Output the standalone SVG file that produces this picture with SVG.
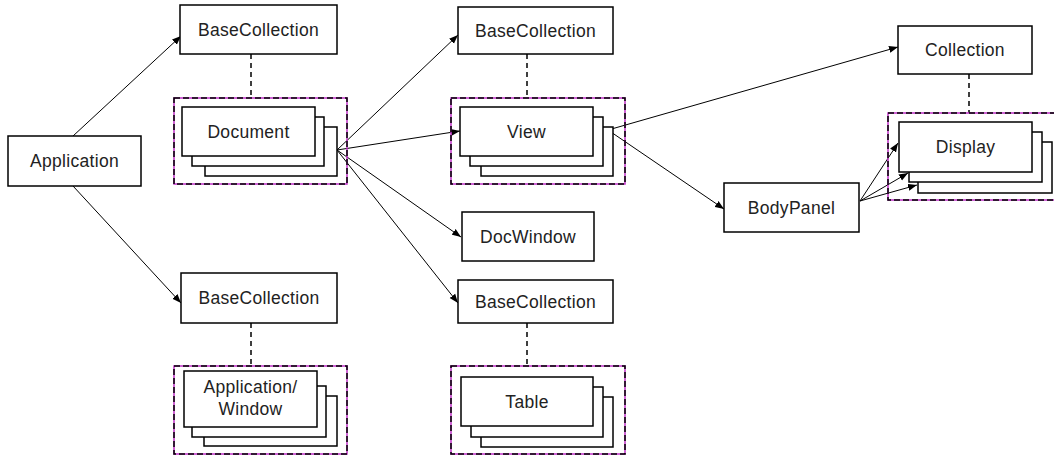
<svg xmlns="http://www.w3.org/2000/svg" width="1054" height="455" viewBox="0 0 1054 455">
<style>
.box{fill:#fff;stroke:#000;stroke-width:1.5}
.frm{fill:none;stroke:#c030c8;stroke-width:1.5}
.frmd{fill:none;stroke:#000;stroke-width:1.5;stroke-dasharray:6 3}
.lbl{font-family:"Liberation Sans",Arial,sans-serif;font-size:17.5px;letter-spacing:0.3px;fill:#222;text-anchor:middle}
.arr{fill:none;stroke:#000;stroke-width:1;marker-end:url(#ah)}
.dsh{fill:none;stroke:#000;stroke-width:1.5;stroke-dasharray:5 4}
</style>
<defs>
<marker id="ah" markerUnits="userSpaceOnUse" markerWidth="10" markerHeight="8" refX="9" refY="4" orient="auto">
<path d="M0,0.5 L9,4 L0,7.5 z" fill="#000"/>
</marker>
</defs>
<rect width="1054" height="455" fill="#fff"/>

<g id="connectors">
<line class="arr" x1="73" y1="136" x2="181" y2="36"/>
<line class="arr" x1="73" y1="186" x2="181" y2="303"/>
<line class="arr" x1="337" y1="150" x2="458" y2="35"/>
<line class="arr" x1="337" y1="150" x2="460" y2="131"/>
<line class="arr" x1="337" y1="150" x2="461" y2="237"/>
<line class="arr" x1="337" y1="150" x2="458" y2="303"/>
<line class="arr" x1="608" y1="130" x2="898" y2="47"/>
<line class="arr" x1="608" y1="130" x2="724" y2="209"/>
<line class="arr" x1="860" y1="201" x2="898" y2="143"/>
<line class="arr" x1="860" y1="201" x2="908" y2="173"/>
<line class="arr" x1="860" y1="201" x2="917" y2="185"/>
<line class="dsh" x1="251" y1="54" x2="251" y2="98"/>
<line class="dsh" x1="251" y1="323" x2="251" y2="366"/>
<line class="dsh" x1="527" y1="54" x2="527" y2="98"/>
<line class="dsh" x1="527" y1="323" x2="527" y2="366"/>
<line class="dsh" x1="969" y1="74" x2="969" y2="113"/>
</g>

<g id="application">
<rect class="box" x="8" y="136" width="133" height="50"/>
<text class="lbl" x="74.5" y="167">Application</text>
</g>

<g id="basecollection1">
<rect class="box" x="180" y="5" width="157" height="49"/>
<text class="lbl" x="258.5" y="36">BaseCollection</text>
</g>

<g id="document">
<rect class="frm" x="174" y="98" width="173" height="86"/>
<rect class="frmd" x="174" y="98" width="173" height="86"/>
<rect class="box" x="205" y="127" width="132" height="49"/>
<rect class="box" x="192" y="117" width="132" height="49"/>
<rect class="box" x="182" y="107" width="133" height="49"/>
<text class="lbl" x="248.5" y="138">Document</text>
</g>

<g id="basecollection2">
<rect class="box" x="181" y="273" width="156" height="50"/>
<text class="lbl" x="259" y="304">BaseCollection</text>
</g>

<g id="appwindow">
<rect class="frm" x="174" y="366" width="173" height="88"/>
<rect class="frmd" x="174" y="366" width="173" height="88"/>
<rect class="box" x="204" y="396" width="133" height="50"/>
<rect class="box" x="192" y="386" width="134" height="51"/>
<rect class="box" x="184" y="371" width="133" height="56"/>
<text class="lbl" x="250.5" y="393">Application/</text>
<text class="lbl" x="250.5" y="415">Window</text>
</g>

<g id="basecollection3">
<rect class="box" x="458" y="7" width="155" height="47"/>
<text class="lbl" x="535.5" y="37">BaseCollection</text>
</g>

<g id="view">
<rect class="frm" x="451" y="98" width="174" height="86"/>
<rect class="frmd" x="451" y="98" width="174" height="86"/>
<rect class="box" x="481" y="127" width="132" height="49"/>
<rect class="box" x="470" y="117" width="133" height="49"/>
<rect class="box" x="460" y="107" width="133" height="49"/>
<text class="lbl" x="526.5" y="138">View</text>
</g>

<g id="docwindow">
<rect class="box" x="462" y="212" width="132" height="49"/>
<text class="lbl" x="528" y="243">DocWindow</text>
</g>

<g id="basecollection4">
<rect class="box" x="458" y="280" width="155" height="43"/>
<text class="lbl" x="535.5" y="308">BaseCollection</text>
</g>

<g id="table">
<rect class="frm" x="451" y="366" width="174" height="88"/>
<rect class="frmd" x="451" y="366" width="174" height="88"/>
<rect class="box" x="481" y="397" width="132" height="50"/>
<rect class="box" x="471" y="387" width="132" height="50"/>
<rect class="box" x="461" y="377" width="132" height="49"/>
<text class="lbl" x="527" y="408">Table</text>
</g>

<g id="collection">
<rect class="box" x="898" y="26" width="134" height="48"/>
<text class="lbl" x="965" y="56">Collection</text>
</g>

<g id="bodypanel">
<rect class="box" x="724" y="183" width="135" height="49"/>
<text class="lbl" x="791.5" y="214">BodyPanel</text>
</g>

<g id="display">
<rect class="frm" x="888" y="113" width="174" height="87"/>
<rect class="frmd" x="888" y="113" width="174" height="87"/>
<rect class="box" x="918" y="142" width="134" height="51"/>
<rect class="box" x="909" y="132" width="133" height="50"/>
<rect class="box" x="899" y="122" width="133" height="50"/>
<text class="lbl" x="965.5" y="153">Display</text>
</g>
</svg>
